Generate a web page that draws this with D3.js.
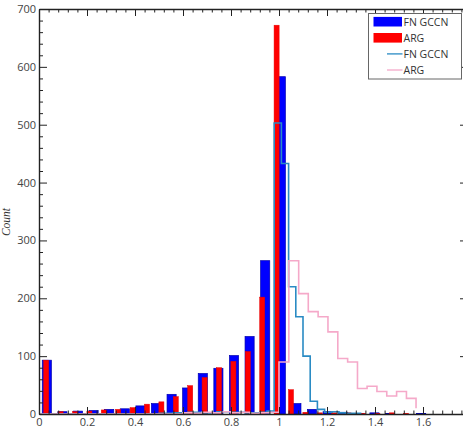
<!DOCTYPE html>
<html>
<head>
<meta charset="utf-8">
<script src="https://cdn.jsdelivr.net/npm/d3@7"></script>
<style>
  html, body { margin: 0; padding: 0; background: #fff; }
  svg { display: block; }
</style>
</head>
<body>
<svg id="chart" width="463" height="428"></svg>
<script>
// ---- data ----
const blueCenters = [0.0325, 0.0975, 0.1625, 0.2275, 0.2925, 0.3575, 0.4225, 0.4875, 0.5525, 0.6175,
  0.6825, 0.7475, 0.8125, 0.8775, 0.9425, 1.0075, 1.0725, 1.1375, 1.2025, 1.2675,
  1.3325, 1.3975, 1.4625, 1.5275, 1.5925];
const blueCounts = [93, 4, 5, 6, 8, 9, 14, 18, 34, 45,
  70, 79, 101, 134, 265, 583, 18, 8, 4, 3,
  1, 2, 1, 0, 1];

const redCenters = [0.03, 0.09, 0.15, 0.21, 0.27, 0.33, 0.39, 0.45, 0.51, 0.57,
  0.63, 0.69, 0.75, 0.81, 0.87, 0.93, 0.99, 1.05, 1.11, 1.17,
  1.23, 1.29, 1.35, 1.41, 1.47, 1.53, 1.59];
const redCounts = [93, 4, 4, 5, 7, 8, 11, 17, 21, 30,
  49, 63, 80, 91, 108, 202, 672, 42, 3, 2,
  2, 2, 1, 1, 2, 1, 0];

const tealEdges = [0, 0.5, 0.56, 0.62, 0.68, 0.74, 0.80, 0.86, 0.92, 0.95,
  0.98, 1.01, 1.04, 1.07, 1.10, 1.13, 1.16, 1.19, 1.22, 1.25, 1.28, 1.31, 1.34];
const tealCounts = [0, 1, 2, 3, 2, 4, 3, 2, 3, 5,
  503, 433, 220, 168, 100, 22, 8, 3, 4, 2, 1, 1, 0];

const pinkEdges = [0, 0.6, 0.64, 0.68, 0.72, 0.76, 0.80, 0.84, 0.88, 0.92, 0.96,
  1.0, 1.041, 1.082, 1.122, 1.163, 1.204, 1.245, 1.286, 1.327, 1.367,
  1.408, 1.449, 1.490, 1.531, 1.571];
const pinkCounts = [0, 2, 1, 3, 2, 4, 2, 3, 1, 2, 3,
  90, 265, 208, 177, 168, 142, 96, 90, 44, 48,
  39, 31, 39, 27, 10];

const xTickValues = [0, 0.2, 0.4, 0.6, 0.8, 1, 1.2, 1.4, 1.6];
const xTickLabels = ["0", "0.2", "0.4", "0.6", "0.8", "1", "1.2", "1.4", "1.6"];
const yTickValues = [0, 100, 200, 300, 400, 500, 600, 700];
const yTickLabels = ["0", "100", "200", "300", "400", "500", "600", "700"];
const legendItems = [
  {label: "FN GCCN", type: "bar", color: "#0000ff"},
  {label: "ARG", type: "bar", color: "#ff0000"},
  {label: "FN GCCN", type: "line", color: "#2a8bc4"},
  {label: "ARG", type: "line", color: "#f5a9c9"}
];
const yTitle = "Count";

// ---- layout ----
const L = 39, R = 468, T = 9, B = 414;
const svg = d3.select("#chart");
const x = d3.scaleLinear().domain([0, 1.7875]).range([L, R]);
const y = d3.scaleLinear().domain([0, 700]).range([B, T]);

svg.append("defs").append("clipPath").attr("id", "clip")
  .append("rect").attr("x", L).attr("y", T).attr("width", R - L).attr("height", B - T);

const plot = svg.append("g").attr("clip-path", "url(#clip)");

const blueW = 0.038, redW = 0.021;
plot.selectAll("rect.blue").data(blueCenters.map((c, i) => ({c, v: blueCounts[i]})))
  .join("rect").attr("class", "blue")
  .attr("x", d => x(d.c - blueW / 2))
  .attr("width", d => x(blueW) - x(0))
  .attr("y", d => y(d.v))
  .attr("height", d => y(0) - y(d.v))
  .attr("fill", "#0000ff").attr("stroke", "#0000b0").attr("stroke-width", 0.7);

plot.selectAll("rect.red").data(redCenters.map((c, i) => ({c, v: redCounts[i]})))
  .join("rect").attr("class", "red")
  .attr("x", d => x(d.c - redW / 2))
  .attr("width", d => x(redW) - x(0))
  .attr("y", d => y(d.v))
  .attr("height", d => y(0) - y(d.v))
  .attr("fill", "#ff0000").attr("stroke", "#e80000").attr("stroke-width", 0.5);

const stairs = d3.line().x(d => x(d[0])).y(d => y(d[1])).curve(d3.curveStepAfter);
plot.append("path").datum(tealEdges.map((e, i) => [e, tealCounts[i]]))
  .attr("d", stairs).attr("fill", "none").attr("stroke", "#2a8bc4").attr("stroke-width", 1.6);
plot.append("path").datum(pinkEdges.map((e, i) => [e, pinkCounts[i]]))
  .attr("d", stairs).attr("fill", "none").attr("stroke", "#f5a9c9").attr("stroke-width", 1.6);

// ---- axes ----
const axisColor = "#222";
const xMinor = d3.range(0, 1.80001, 0.04).filter(v => !xTickValues.some(t => Math.abs(t - v) < 1e-6));
const yMinor = d3.range(0, 700.001, 20).filter(v => v % 100 !== 0);

function styleAxis(g) {
  g.selectAll("path.domain").attr("stroke", axisColor).attr("stroke-width", 1.4);
  g.selectAll(".tick line").attr("stroke", axisColor).attr("stroke-width", 1);
  g.selectAll("text").attr("fill", "#444").attr("font-family", "'Open Sans', sans-serif").attr("font-size", 11);
}

// left
const gl = svg.append("g").attr("transform", `translate(${L},0)`)
  .call(d3.axisLeft(y).tickValues(yTickValues).tickFormat((d, i) => yTickLabels[i]).tickSizeInner(-8).tickSizeOuter(0).tickPadding(3));
styleAxis(gl);
const glm = svg.append("g").attr("transform", `translate(${L},0)`)
  .call(d3.axisLeft(y).tickValues(yMinor).tickFormat("").tickSizeInner(-4).tickSizeOuter(0));
styleAxis(glm); glm.select("path.domain").remove();

// right
const gr = svg.append("g").attr("transform", `translate(${R},0)`)
  .call(d3.axisRight(y).tickValues(yTickValues).tickFormat("").tickSizeInner(-8).tickSizeOuter(0));
styleAxis(gr);
const grm = svg.append("g").attr("transform", `translate(${R},0)`)
  .call(d3.axisRight(y).tickValues(yMinor).tickFormat("").tickSizeInner(-4).tickSizeOuter(0));
styleAxis(grm); grm.select("path.domain").remove();

// bottom
const gb = svg.append("g").attr("transform", `translate(0,${B})`)
  .call(d3.axisBottom(x).tickValues(xTickValues).tickFormat((d, i) => xTickLabels[i]).tickSizeInner(-7).tickSizeOuter(0).tickPadding(4));
styleAxis(gb);
const gbm = svg.append("g").attr("transform", `translate(0,${B})`)
  .call(d3.axisBottom(x).tickValues(xMinor).tickFormat("").tickSizeInner(-3.5).tickSizeOuter(0));
styleAxis(gbm); gbm.select("path.domain").remove();

// top
const gt = svg.append("g").attr("transform", `translate(0,${T})`)
  .call(d3.axisTop(x).tickValues(xTickValues).tickFormat("").tickSizeInner(-7).tickSizeOuter(0));
styleAxis(gt);
const gtm = svg.append("g").attr("transform", `translate(0,${T})`)
  .call(d3.axisTop(x).tickValues(xMinor).tickFormat("").tickSizeInner(-3.5).tickSizeOuter(0));
styleAxis(gtm); gtm.select("path.domain").remove();

// y title
svg.append("text")
  .attr("transform", `translate(10,222) rotate(-90)`)
  .attr("text-anchor", "middle")
  .attr("font-family", "'Liberation Serif', serif")
  .attr("font-style", "italic")
  .attr("font-size", 11.5)
  .attr("fill", "#333")
  .text(yTitle);

// ---- legend ----
const lg = svg.append("g");
lg.append("rect").attr("x", 368.5).attr("y", 13.5).attr("width", 93).attr("height", 65.5)
  .attr("fill", "#fff").attr("stroke", "#666").attr("stroke-width", 1);
legendItems.forEach((it, i) => {
  const cy = 21.7 + i * 16.1;
  if (it.type === "bar") {
    lg.append("rect").attr("x", 373.5).attr("y", cy - 4.8).attr("width", 28.5).attr("height", 9.6)
      .attr("fill", it.color);
  } else {
    lg.append("line").attr("x1", 387).attr("x2", 402.5).attr("y1", cy).attr("y2", cy)
      .attr("stroke", it.color).attr("stroke-width", 1.3);
  }
  lg.append("text").attr("x", 403.5).attr("y", cy + 3.9)
    .attr("font-family", "'Open Sans', sans-serif").attr("font-size", 10.5)
    .attr("fill", "#333").text(it.label);
});
</script>
</body>
</html>
